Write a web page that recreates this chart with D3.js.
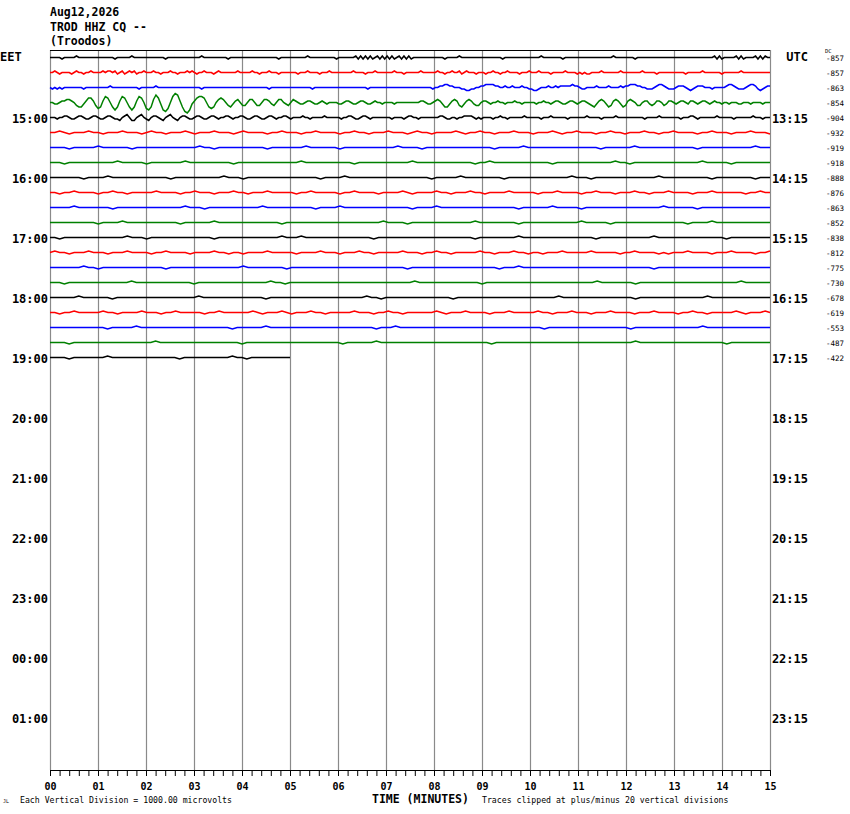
<!DOCTYPE html>
<html lang="en">
<head>
<meta charset="utf-8">
<title>TROD HHZ CQ helicorder</title>
<script src="https://cdn.jsdelivr.net/npm/d3@7"></script>
<style>
    body { margin: 0; background: #fff; }
    text { font-family: "DejaVu Sans Mono", monospace; fill: #000; }
</style>
</head>
<body>
<script>

// header text
var titleLines = ["Aug12,2026", "TROD HHZ CQ --", "(Troodos)"];

// one label every 4 lines (each line = 15 minutes)
var localLabels = ["EET", "15:00", "16:00", "17:00", "18:00", "19:00", "20:00", "21:00", "22:00", "23:00", "00:00", "01:00"];
var utcLabels = ["UTC", "13:15", "14:15", "15:15", "16:15", "17:15", "18:15", "19:15", "20:15", "21:15", "22:15", "23:15"];
var minuteLabels = ["00", "01", "02", "03", "04", "05", "06", "07", "08", "09", "10", "11", "12", "13", "14", "15"];

// DC offset printed at the right of each line
var dcOffsets = [-857, -857, -863, -854, -904, -932, -919, -918, -888, -876, -863, -852, -838, -812, -775, -730, -678, -619, -553, -487, -422];

// minutes recorded on each line (last line still running)
var traceEndMin = [15, 15, 15, 15, 15, 15, 15, 15, 15, 15, 15, 15, 15, 15, 15, 15, 15, 15, 15, 15, 5];

var traceColors = ["#000000", "#ff0000", "#0000ff", "#008000"];

// traces, one char per sample, in units of 100 microvolts: 0..9 up, a..i down (-1..-9)
// lines 0-4 sampled every 0.05 min, the rest every 0.1 min
var traces = [
    // 14:00
    "00000a00000100000000" + "0000000a000000100000" + "00000000a00000000000" + "00010000000000a00000" + "000000000000000a0000" +
    "0000000100000000000a" + "00000001a1a1a1a01a1a" + "1a1a01a1a1a000000000" + "0000a000001000000000" + "00000000a00000000000" +
    "0000100000000a000000" + "00000000000000100000" + "000a0000000000000000" + "00000000000000001a1a" + "000001a1a00001a1a100",
    // 14:15
    "0010a0000a0100a00100" + "00101101a01a0101a001" + "000100a000100a000101" + "0a001000a01000000010" + "0000100a0001000a0000" +
    "000a00010000a0001000" + "00000010000a00010000" + "0001000a000000100000" + "0100a001001a01000a00" + "0a00100a0010000a0001" +
    "00010000a0000010000a" + "0a0aa000010000000100" + "000000100000a0000000" + "0000a00000010000000a" + "00000001000000000000",
    // 14:30
    "0a0a0a00000000a00000" + "00000100000000000a00" + "00001000000000000000" + "000a0000000000000000" + "00000000000a00000000" +
    "000000000a0000000000" + "000000000000a0000000" + "0000000000000000000a" + "00112211000aabbaa001" + "1222211001001000100a" +
    "abba0001001011111211" + "0aa00001000010000101" + "12221100aaa012210aaa" + "01110aba0111000a0000" + "012210aaa01221aba011",
    // 14:45
    "00aa0112210bcca1331b" + "dc1430cec1430cec1430" + "dec253aefd04651cfgea" + "134430cdc02320bca120" + "bb0220bb0221ab0220ab" +
    "0210aa0110aa010a0000" + "aa0110aa0110aa0100a0" + "000a0000000000110aa0" + "121acca121bca121abb0" + "110a00100a000100a000" +
    "00a00100a0110aa0110a" + "0110abca121acb121acb" + "1210bb011aba110ba110" + "a0110a110a0110a0100a" + "00a000aa000a0000a000",
    // 15:00
    "000a00110aa0110aa011" + "0aa0110aab0120bb0120" + "ab0110ab0120ab0110aa" + "0110aa0110a00110a001" + "10aa0110aa0110a00110" +
    "a0000100a00000100000" + "0a00110aa0110a000000" + "00a0000a01100a000000" + "00110aa00a0011110a0a" + "0000a00100a000000100" +
    "0000a0001000000a0000" + "000100000a0000010000" + "0000000a000001000000" + "00a000110a0000000100" + "0000a00000001000a000",
    // 15:15
    "0010a000100a0001000a0100a00010a0001000a010000a0010" + "00a0010000a00100a0001000a0100a000010a00100a0001000" + "a00010a001000a00100a000100a0010000a001000a0001000a",
    // 15:30
    "0000a000001000000a0000000000000100a0000000000a0000" + "0001000000a0000000000010000a00000000000000a0000010" + "00000000000000a0000001000000000000a000000000001000",
    // 15:45
    "000a0000000000100000a00000001000000000a00000000000" + "0010000000000a000000000001000000000000a00100000000" + "0000a000000000000100a00000000000000100000a00000000",
    // 16:00
    "0000000a00001000000000000a00000000001000a000000000" + "000000a0000100000000000000000a00000100000000a00000" + "000000001000a000000000000010000000000a00000000a000",
    // 16:15
    "00a0010000a00100a0000010000a001000a000100a00010000" + "0a00100000a0010000a000010a0000100a000100a000010000" + "0a00010000a001000a000100a00010000a0001000000a00100",
    // 16:30
    "0000010000000a000000000000001000a00000000000100000" + "00000a0000100000000000000a000010000000000000000a00" + "0000100000a00000000000000001000000a000000000000000",
    // 16:45
    "0000000000a0000100000000000a00000010000000000000a0" + "000000000000000000010000a0000000000000100000000a00" + "0000000000100000a000000000000000a00001000000000000",
    // 17:00
    "00a00000000000001000a0000000000000a000000000000010" + "00100000000000000a00000000000000000000a00000000100" + "0000000000000a00000000000100000000000000a000000000",
    // 17:15
    "0100a0001000a00010000a0010000a0000100a00a000010000" + "0a00001000a000100a000001000a00100a00000100a000100a" + "00a000100000100000a0010000a0a00010000a00010000a001",
    // 17:30
    "0000000100a0000000000000a000000000000000100000000a" + "000000000000000000000000a000000000000000000a000100" + "0000000000000000000000000a000000000000000000000000",
    // 17:45
    "000a00000000000001000000000000a000000000000000100a" + "0000000000000000000000000010000000000000a000000000" + "0000000000000010000000a0000000000000000000001000000",
    // 18:00
    "0000001000000a0000000000000000010000000000000a0000" + "0000000000000000100a00000000000000a000000000000000" + "0000001000000000000000a0000000000000010000000000000",
    // 18:15
    "00a00100000100a00001000a00100000a00100000010a00010" + "a000100a000001000a00100a00000010a00010000a00010000" + "0100a0001000a00010000a00010000a00100a0000010a00010",
    // 18:30
    "000000000000a0000010000000000000000000a00000010000" + "000000000000000000a0001000000000000000000000000000" + "000a00000000000000000a00000000000000100000000000000",
    // 18:45
    "0000a00000000000000000100000000000000000a000000000" + "00000000000a000000100000000000000000000000a0000000" + "00000000000000000000001000000000000000000a000000000",
    // 19:00
    "0000a0000000100000000000000a0000000000100a000000000"
];

var w = 850;
var h = 814;
var plotLeft = 50, plotRight = 770, plotTop = 50, plotBottom = 770;
var rows = 48;

//Create scale functions
var xScale = d3.scaleLinear()
        .domain([0, 15])
        .range([plotLeft, plotRight]);

var rowScale = d3.scaleLinear()
        .domain([0, rows])
        .range([plotTop, plotBottom]);

// one vertical division (1000 microvolts) = one line spacing
var ampScale = d3.scaleLinear()
        .domain([-1000, 1000])
        .range([(plotBottom - plotTop) / rows, -(plotBottom - plotTop) / rows]);

var colorScale = d3.scaleOrdinal()
        .domain([0, 1, 2, 3])
        .range(traceColors);

function decode(s) {
    return s.split("").map(function (c) {
        return ("ihgfedcba0123456789".indexOf(c) - 9) * 100;
    });
}

function rowY(r) {
    return rowScale(r + 0.5);
}

//Create SVG element
var svg = d3.select("body")
        .append("svg")
        .attr("width", w)
        .attr("height", h)
        .style("display", "block");

svg.append("rect")
        .attr("width", w)
        .attr("height", h)
        .attr("fill", "#fff");

// minute grid lines
svg.append("g")
        .selectAll("line")
        .data(d3.range(16))
        .enter()
        .append("line")
        .attr("x1", function (d) { return xScale(d) + 0.5; })
        .attr("x2", function (d) { return xScale(d) + 0.5; })
        .attr("y1", plotTop)
        .attr("y2", plotBottom)
        .attr("stroke", "#8a8a8a")
        .attr("stroke-width", 1.2);

// top frame
svg.append("line")
        .attr("x1", plotLeft)
        .attr("x2", plotRight)
        .attr("y1", plotTop + 0.5)
        .attr("y2", plotTop + 0.5)
        .attr("stroke", "#000")
        .attr("stroke-width", 1);

// traces
var line = d3.line()
        .x(function (d) { return xScale(d.t); })
        .y(function (d) { return d.y; });

svg.append("g")
        .selectAll("path")
        .data(traces)
        .enter()
        .append("path")
        .attr("d", function (s, r) {
            var vals = decode(s);
            var step = traceEndMin[r] / (vals.length - 1);
            return line(vals.map(function (v, i) {
                return { t: i * step, y: rowY(r) + ampScale(v) };
            }));
        })
        .attr("fill", "none")
        .attr("stroke", function (s, r) { return colorScale(r % 4); })
        .attr("stroke-width", 1.5)
        .attr("stroke-linejoin", "miter");

// header
svg.append("g")
        .selectAll("text")
        .data(titleLines)
        .enter()
        .append("text")
        .attr("x", 50)
        .attr("y", function (d, i) { return 16 + i * 14.5; })
        .attr("font-size", "11.5px")
        .attr("font-weight", "bold")
        .text(function (d) { return d; });

// left (local time) labels
svg.append("g")
        .selectAll("text")
        .data(localLabels)
        .enter()
        .append("text")
        .attr("x", function (d, i) { return i === 0 ? 0 : plotLeft - 2; })
        .attr("y", function (d, i) { return rowY(i * 4) + (i === 0 ? 3.5 : 5); })
        .attr("text-anchor", function (d, i) { return i === 0 ? "start" : "end"; })
        .attr("font-size", "12px")
        .attr("font-weight", "bold")
        .text(function (d) { return d; });

// right (UTC) labels
svg.append("g")
        .selectAll("text")
        .data(utcLabels)
        .enter()
        .append("text")
        .attr("x", 808)
        .attr("y", function (d, i) { return rowY(i * 4) + (i === 0 ? 3.5 : 5); })
        .attr("text-anchor", "end")
        .attr("font-size", "12px")
        .attr("font-weight", "bold")
        .text(function (d) { return d; });

// DC offsets
svg.append("text")
        .attr("x", 825)
        .attr("y", 52.5)
        .attr("font-size", "5.5px")
        .text("DC");

svg.append("g")
        .selectAll("text")
        .data(dcOffsets)
        .enter()
        .append("text")
        .attr("x", 826)
        .attr("y", function (d, i) { return rowY(i) + 3; })
        .attr("font-size", "7.5px")
        .text(function (d) { return d; });

// bottom axis: minor ticks every 12 s, labels every minute
svg.append("g")
        .attr("transform", "translate(0," + plotBottom + ")")
        .call(d3.axisBottom(xScale)
            .tickValues(d3.range(76).map(function (i) { return i / 5; }))
            .tickSize(6)
            .tickSizeOuter(0)
            .tickFormat(""));

var labelAxis = svg.append("g")
        .attr("transform", "translate(0," + plotBottom + ")")
        .call(d3.axisBottom(xScale)
            .tickValues(d3.range(16))
            .tickSize(6)
            .tickSizeOuter(0)
            .tickPadding(7)
            .tickFormat(function (d) { return minuteLabels[d]; }));

labelAxis.select(".domain").remove();
labelAxis.selectAll("text")
        .attr("font-family", "DejaVu Sans Mono")
        .attr("font-size", "10px")
        .attr("font-weight", "bold");

// footer
svg.append("text")
        .attr("x", 3)
        .attr("y", 803)
        .attr("font-size", "5px")
        .text("JL");

svg.append("text")
        .attr("x", 20)
        .attr("y", 802.5)
        .attr("font-size", "8.2px")
        .text("Each Vertical Division = 1000.00 microvolts");

svg.append("text")
        .attr("x", 372)
        .attr("y", 802.5)
        .attr("font-size", "11.5px")
        .attr("font-weight", "bold")
        .text("TIME (MINUTES)");

svg.append("text")
        .attr("x", 482)
        .attr("y", 802.5)
        .attr("font-size", "8.2px")
        .text("Traces clipped at plus/minus 20 vertical divisions");

</script>
</body>
</html>
